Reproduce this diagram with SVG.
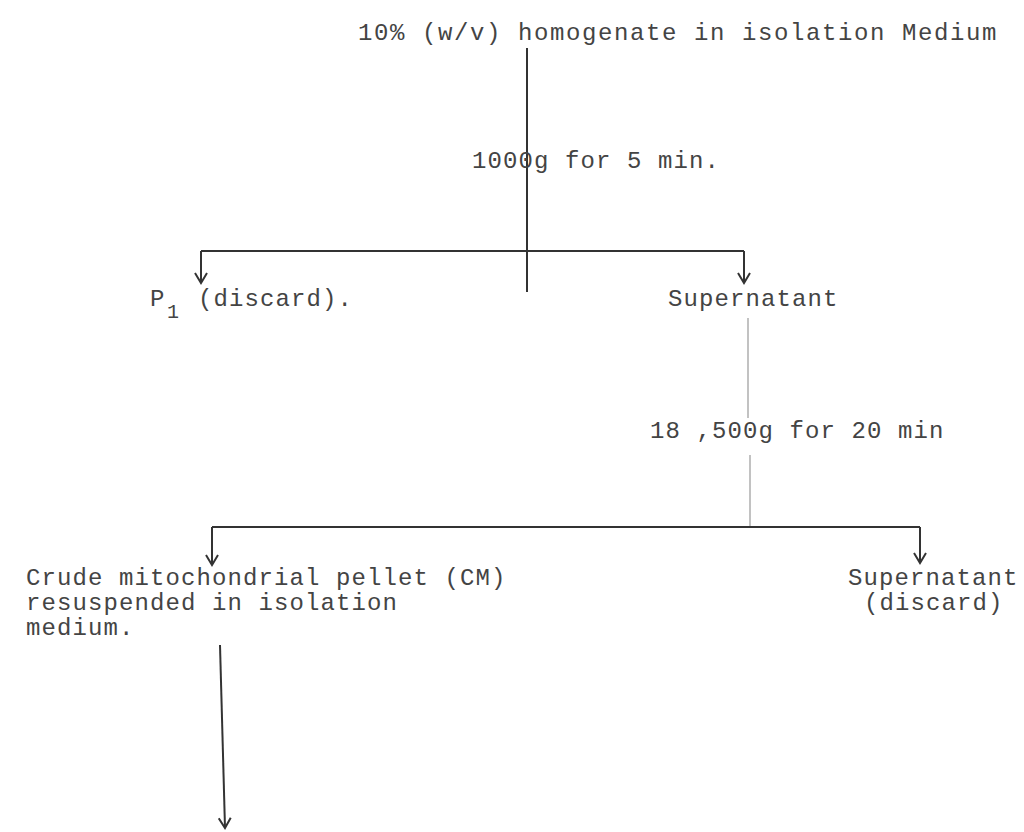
<svg xmlns="http://www.w3.org/2000/svg" width="1024" height="832" viewBox="0 0 1024 832">
<style>
.t{font-family:"Liberation Mono","DejaVu Sans Mono",monospace;font-size:24px;letter-spacing:1.1px;fill:#444}
.w{letter-spacing:1.6px}
.s{font-family:"Liberation Mono","DejaVu Sans Mono",monospace;font-size:20px;fill:#444}
.c{stroke:#333;stroke-width:2;fill:none}
.f{stroke:#999;stroke-width:1.2;fill:none}
</style>
<defs>
<marker id="ah" viewBox="0 0 14 14" markerWidth="14" markerHeight="14" refX="12" refY="7" orient="auto" markerUnits="userSpaceOnUse">
<path d="M2,1 L12,7 L2,13" stroke="#333" stroke-width="2" fill="none"/>
</marker>
</defs>
<rect width="1024" height="832" fill="#fff"/>
<g id="connectors">
<path class="c" d="M527,48 V292"/>
<path class="c" d="M201,251 H744"/>
<path class="c" d="M201,251 V283" marker-end="url(#ah)"/>
<path class="c" d="M744,251 V283" marker-end="url(#ah)"/>
<path class="f" d="M748,318 V418"/>
<path class="f" d="M750,455 V527"/>
<path class="c" d="M212,527 H920"/>
<path class="c" d="M212,527 V565" marker-end="url(#ah)"/>
<path class="c" d="M920,527 V563" marker-end="url(#ah)"/>
<path class="c" d="M220,645 L225,828" marker-end="url(#ah)"/>
</g>
<g id="homogenate"><text class="t w" x="358" y="40">10% (w/v) homogenate in isolation Medium</text></g>
<g id="spin1"><text class="t" x="472" y="168">1000g for 5 min.</text></g>
<g id="p1"><text class="t" x="150" y="306">P</text><text class="s" x="167" y="318">1</text><text class="t" x="198" y="306">(discard).</text></g>
<g id="supernatant1"><text class="t" x="668" y="306">Supernatant</text></g>
<g id="spin2"><text class="t" x="650" y="438">18 ,500g for 20 min</text></g>
<g id="cm"><text class="t" x="26" y="585">Crude mitochondrial pellet (CM)</text><text class="t" x="26" y="610">resuspended in isolation</text><text class="t" x="26" y="635">medium.</text></g>
<g id="supernatant2"><text class="t" x="848" y="585">Supernatant</text><text class="t" x="864" y="610">(discard)</text></g>
</svg>
